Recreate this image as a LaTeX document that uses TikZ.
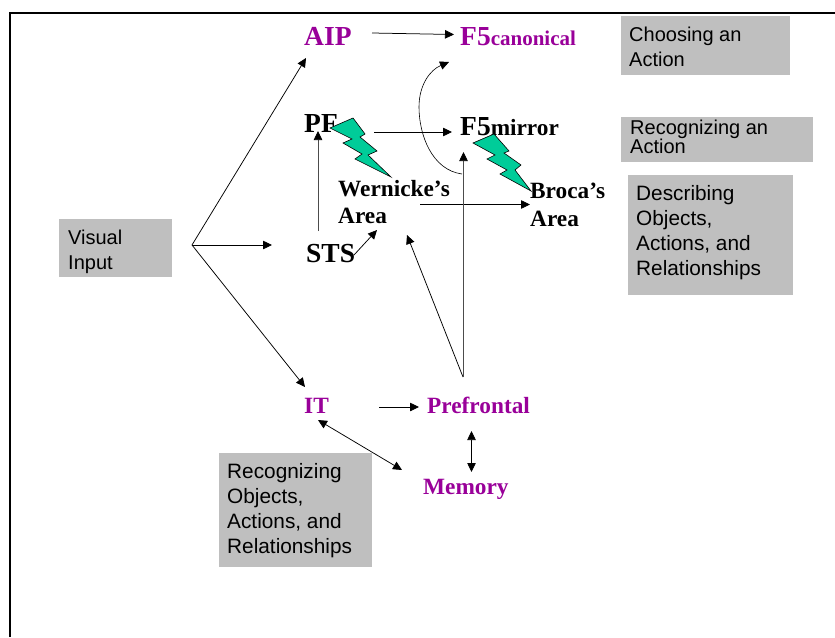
\documentclass[tikz,border=0pt]{standalone}
\usepackage{fontspec}
\setmainfont{Liberation Serif}
\newfontfamily\labelfont{Liberation Sans}
\usetikzlibrary{arrows.meta}
\definecolor{areapurple}{HTML}{990099}
\definecolor{labelgrey}{HTML}{BFBFBF}
\definecolor{boltgreen}{HTML}{00CC99}
\tikzset{
	>={Triangle[length=9pt,width=8.5pt,black]},
	link/.style={->,line width=0.75pt},
	twolink/.style={<->,line width=0.75pt},
	area/.style={anchor=base west,inner sep=0pt,font=\bfseries\fontsize{23.3}{27}\selectfont},
	bigarea/.style={area,font=\bfseries\fontsize{27.5}{30}\selectfont},
	labeltext/.style={anchor=west,inner sep=0pt,align=left,font=\labelfont\fontsize{20}{25}\selectfont},
	widetext/.style={labeltext,font=\labelfont\fontsize{20.8}{25}\selectfont},
	bolt/.style={draw=black,fill=boltgreen,line width=0.6pt,line join=miter}
}
\begin{document}
\begin{tikzpicture}[x=1pt,y=-1pt]
\useasboundingbox (0,0) rectangle (835,637);
\draw [line width=1.6pt] (10,637) -- (10,13) -- (835,13);
% grey labels
\fill [labelgrey] (59,219) rectangle +(113,58);
\fill [labelgrey] (621,16) rectangle +(169,59);
\fill [labelgrey] (621,117) rectangle +(192,45);
\fill [labelgrey] (628,175) rectangle +(165,120);
\fill [labelgrey] (219,453) rectangle +(153,114);
\node (visual) at (68,252) [labeltext] {Visual\\Input};
\node (choosing) at (629,46.5) [labeltext] {Choosing an\\Action};
\node (recaction) at (630,137) [labeltext,font=\labelfont\fontsize{20}{18}\selectfont] {Recognizing an\\Action};
\node (describing) at (636,233) [widetext] {Describing\\Objects,\\Actions, and\\Relationships};
\node (recobjects) at (227,511) [widetext] {Recognizing\\Objects,\\Actions, and\\Relationships};
% brain areas
\node (aip) at (304,45) [bigarea,text=areapurple] {AIP};
\node (f5can) at (460,45) [bigarea,text=areapurple] {F5{\fontsize{21}{24}\selectfont canonical}};
\node (pf) at (304,132) [bigarea] {PF};
\node (f5mir) at (460,135) [bigarea] {F5{\fontsize{23.3}{24}\selectfont mirror}};
\node (wernicke) at (338,196) [area] {Wernicke's};
\node (wernarea) at (338,223) [area] {Area};
\node (sts) at (306,262) [bigarea] {STS};
\node (it) at (304,413) [area,text=areapurple] {IT};
\node (prefrontal) at (427,413) [area,text=areapurple] {Prefrontal};
\node (memory) at (423,494) [area,text=areapurple] {Memory};
\coordinate (hub) at (192,245);
% lightning
\draw [bolt] (330,128) -- (353,118) -- (365,134) -- (360,137) -- (377,151) -- (368,155) -- (391,177) -- (355,159) -- (362,154) -- (343,143) -- (352,139) -- cycle;
\draw [bolt] (473,143) -- (494,134) -- (509,151) -- (504,153) -- (521,165) -- (515,170) -- (531,191) -- (500,174) -- (507,170) -- (487,159) -- (495,155) -- cycle;
\node (broca) at (530,198) [area] {Broca's};
\node (brocarea) at (530,226) [area] {Area};
% connectors
\draw [link] (hub) -- ([shift={(2,13)}]aip.base west);
\draw [link] (hub) -- ([shift={(-34,-17)}]sts.base west);
\draw [link] (hub) -- ([shift={(1,-26)}]it.base west);
\draw [link] ([shift={(68,-12)}]aip.base west) -- ([shift={(-6,-10.5)}]f5can.base west);
\draw [link] ([shift={(70,0)}]pf.base west) -- ([shift={(-8,-3)}]f5mir.base west);
\draw [link,draw=black!70] ([shift={(12,-31)}]sts.base west) -- ([shift={(14,-1)}]pf.base west);
\draw [link] ([shift={(48,-7)}]sts.base west) -- ([shift={(39,7)}]wernarea.base west);
\draw [link] ([shift={(82,-18.5)}]wernarea.base west) -- ([shift={(0,6.5)}]broca.base west);
\draw [link] ([shift={(36,-36)}]prefrontal.base west) -- ([shift={(69,12)}]wernarea.base west);
\draw [link,draw=black!70] ([shift={(36.5,-36)}]prefrontal.base west) -- ([shift={(3.5,17)}]f5mir.base west);
\draw [link] ([shift={(75,-6)}]it.base west) -- ([shift={(-8,-6)}]prefrontal.base west);
\draw [twolink] ([shift={(14,7)}]it.base west) -- ([shift={(-21,-24)}]memory.base west);
\draw [twolink] ([shift={(44.5,18)}]prefrontal.base west) -- ([shift={(48.5,-22)}]memory.base west);
\draw [link,line width=0.6pt] ([shift={(2,39)}]f5mir.base west) .. controls (432,170) and (419,135) .. (419,107) .. controls (419,85) and (430,70) .. ([shift={(-11,17)}]f5can.base west);
\end{tikzpicture}
\end{document}
